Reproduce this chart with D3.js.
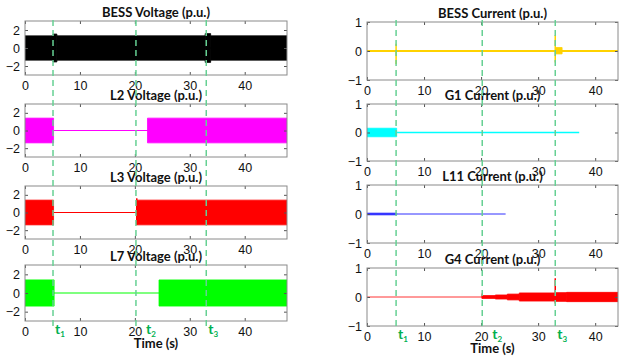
<!DOCTYPE html>
<html><head><meta charset="utf-8">
<script src="https://cdn.jsdelivr.net/npm/d3@7/dist/d3.min.js"></script>
<style>body{margin:0;background:#fff}svg{display:block}</style>
</head><body><svg id="c" width="633" height="358"></svg>
<script>
// ---- data ----
const timeTicks = [0, 10, 20, 30, 40];
const voltTicks = [-2, 0, 2];
const currTicks = [-1, 0, 1];
const eventTimes = [5.1, 20.2, 33.0];
const eventLabels = ["1", "2", "3"];

// envelope segments: [tStart, tEnd, upper, lower]; spikes: [t, upper, lower]
const bessVoltEnv = [[0,5.1,1.35,-1.35],[5.1,5.8,1.55,-1.55],[5.8,32.8,1.35,-1.35],[32.8,33.8,1.6,-1.6],[33.8,47.7,1.35,-1.35]];
const l2VoltEnv = [[0,5.2,1.4,-1.4],[22.3,47.7,1.4,-1.4]];
const l3VoltEnv = [[0,5.2,1.4,-1.4],[20.3,47.7,1.4,-1.4]];
const l3VoltSpikes = [[20.35,1.6,-1.4]];
const l7VoltEnv = [[0,5.3,1.4,-1.4],[24.4,47.7,1.4,-1.4]];
const bessCurrEnv = [[33.1,34.2,0.12,-0.1]];
const bessCurrSpikes = [[5.1,0.25,-0.45],[33.0,0.55,-0.4]];
const g1CurrEnv = [[0,5.2,0.15,-0.15]];
const l11CurrEnv = [[0,5.2,0.03,-0.03]];
const g4CurrEnv = [[20.2,22.5,0.05,-0.05],[22.5,24.6,0.07,-0.07],[24.6,26.7,0.1,-0.1],[26.7,33,0.14,-0.14],[33,35,0.15,-0.15],[35,44,0.16,-0.16]];
const g4CurrSpikes = [[20.2,0.12,-0.05],[33.0,0.65,-0.22]];

const panels = [
  {title:"BESS Voltage (p.u.)", col:0, row:0, xMax:47.7, yDom:[-3,3], yTicks:voltTicks, color:"#000000", lineEnd:47.7, lw:1, env:bessVoltEnv, spikes:[]},
  {title:"L2 Voltage (p.u.)", col:0, row:1, xMax:47.7, yDom:[-3,3], yTicks:voltTicks, color:"#ff00ff", lineEnd:47.7, lw:1, env:l2VoltEnv, spikes:[]},
  {title:"L3 Voltage (p.u.)", col:0, row:2, xMax:47.7, yDom:[-3,3], yTicks:voltTicks, color:"#ff0000", lineEnd:47.7, lw:1, env:l3VoltEnv, spikes:l3VoltSpikes},
  {title:"L7 Voltage (p.u.)", col:0, row:3, xMax:47.7, yDom:[-3,3], yTicks:voltTicks, color:"#00ff00", lineEnd:47.7, lw:1.2, env:l7VoltEnv, spikes:[]},
  {title:"BESS Current (p.u.)", col:1, row:0, xMax:44, yDom:[-1,1], yTicks:currTicks, color:"#ffd200", lineEnd:44, lw:1.8, env:bessCurrEnv, spikes:bessCurrSpikes},
  {title:"G1 Current (p.u.)", col:1, row:1, xMax:44, yDom:[-1,1], yTicks:currTicks, color:"#00ffff", lineEnd:37.2, lw:1.3, env:g1CurrEnv, spikes:[]},
  {title:"L11 Current (p.u.)", col:1, row:2, xMax:44, yDom:[-1,1], yTicks:currTicks, color:"#3030ff", lineEnd:24.3, lw:1, env:l11CurrEnv, spikes:[]},
  {title:"G4 Current (p.u.)", col:1, row:3, xMax:44, yDom:[-1,1], yTicks:currTicks, color:"#ff0000", lineEnd:44, lw:0.8, env:g4CurrEnv, spikes:g4CurrSpikes}
];

// ---- layout ----
const colX = [[25,287],[367,618]];
const rowY = [
  [[21,75],[104,157],[186,239],[265,321]],
  [[22,80],[104,161],[185,243],[268,326]]
];
const labelOffsets = [2, 10, 2];
const svg = d3.select("#c");
const titleFont = "Lato, 'Open Sans', sans-serif";
const tickFont = "'Liberation Sans', Arial, sans-serif";
const xScales = [];

panels.forEach(p => {
  const [x0,x1] = colX[p.col];
  const [y0,y1] = rowY[p.col][p.row];
  const x = d3.scaleLinear().domain([0,p.xMax]).range([x0,x1]);
  const y = d3.scaleLinear().domain(p.yDom).range([y1,y0]);
  xScales[p.col] = x;
  const g = svg.append("g");
  const clipId = "clip"+p.col+p.row;
  g.append("clipPath").attr("id",clipId).append("rect").attr("x",x0).attr("y",y0).attr("width",x1-x0).attr("height",y1-y0);
  const dg = g.append("g").attr("clip-path","url(#"+clipId+")");
  dg.append("line").attr("x1",x(0)).attr("x2",x(p.lineEnd)).attr("y1",y(0)).attr("y2",y(0))
    .attr("stroke",p.color).attr("stroke-width",p.lw);
  const area = d3.area().x(d=>x(d[0])).y0(d=>y(d[2])).y1(d=>y(d[1]));
  p.env.forEach(s => {
    dg.append("path").attr("d", area([[s[0],s[2],s[3]],[s[1],s[2],s[3]]])).attr("fill",p.color).attr("stroke",p.color).attr("stroke-width",0.8);
  });
  p.spikes.forEach(s => {
    dg.append("line").attr("x1",x(s[0])).attr("x2",x(s[0])).attr("y1",y(s[1])).attr("y2",y(s[2]))
      .attr("stroke",p.color).attr("stroke-width",1.5);
  });
  const fmt = d3.format("d");
  const bottom = d3.axisBottom(x).tickValues(timeTicks).tickFormat(fmt).tickSizeInner(-3).tickSizeOuter(0).tickPadding(6);
  const top = d3.axisTop(x).tickValues(timeTicks).tickSizeInner(-3).tickSizeOuter(0).tickFormat("");
  const left = d3.axisLeft(y).tickValues(p.yTicks).tickFormat(fmt).tickSizeInner(-3).tickSizeOuter(0).tickPadding(5);
  const right = d3.axisRight(y).tickValues(p.yTicks).tickSizeInner(-3).tickSizeOuter(0).tickFormat("");
  [[bottom,`translate(0,${y1})`],[top,`translate(0,${y0})`],[left,`translate(${x0},0)`],[right,`translate(${x1},0)`]].forEach(([ax,tr])=>{
    const a = g.append("g").attr("transform",tr).call(ax);
    a.select(".domain").remove();
    a.selectAll("line").attr("stroke","#555");
    a.selectAll("text").attr("font-family",tickFont).attr("font-size",12.5).attr("fill","#111");
  });
  g.append("rect").attr("x",x0).attr("y",y0).attr("width",x1-x0).attr("height",y1-y0)
    .attr("fill","none").attr("stroke","#8a8a8a").attr("stroke-width",1);
  g.append("text").attr("x",(x0+x1)/2).attr("y",y0-4).attr("text-anchor","middle")
    .attr("font-family",titleFont).attr("font-weight","bold").attr("font-size",13).attr("fill","#111").text(p.title);
});

const dashTop = [20, 20], dashBot = [328, 327];
[0,1].forEach(c => {
  const x = xScales[c];
  eventTimes.forEach((t,i) => {
    svg.append("line").attr("x1",x(t)).attr("x2",x(t)).attr("y1",dashTop[c]).attr("y2",dashBot[c])
      .attr("stroke","#66d093").attr("stroke-width",1.5).attr("stroke-dasharray","6,4");
    const lbl = svg.append("text").attr("x",x(t)+labelOffsets[i]).attr("y",rowY[c][3][1]+13)
      .attr("font-family",titleFont).attr("font-weight","bold").attr("font-size",14).attr("fill","#00b050");
    lbl.append("tspan").text("t");
    lbl.append("tspan").attr("font-size",8).attr("dy",3).text(eventLabels[i]);
  });
  svg.append("text").attr("x",(colX[c][0]+colX[c][1])/2).attr("y",rowY[c][3][1]+27).attr("text-anchor","middle")
    .attr("font-family",titleFont).attr("font-weight","bold").attr("font-size",13).attr("fill","#111").text("Time (s)");
});
</script></body></html>
